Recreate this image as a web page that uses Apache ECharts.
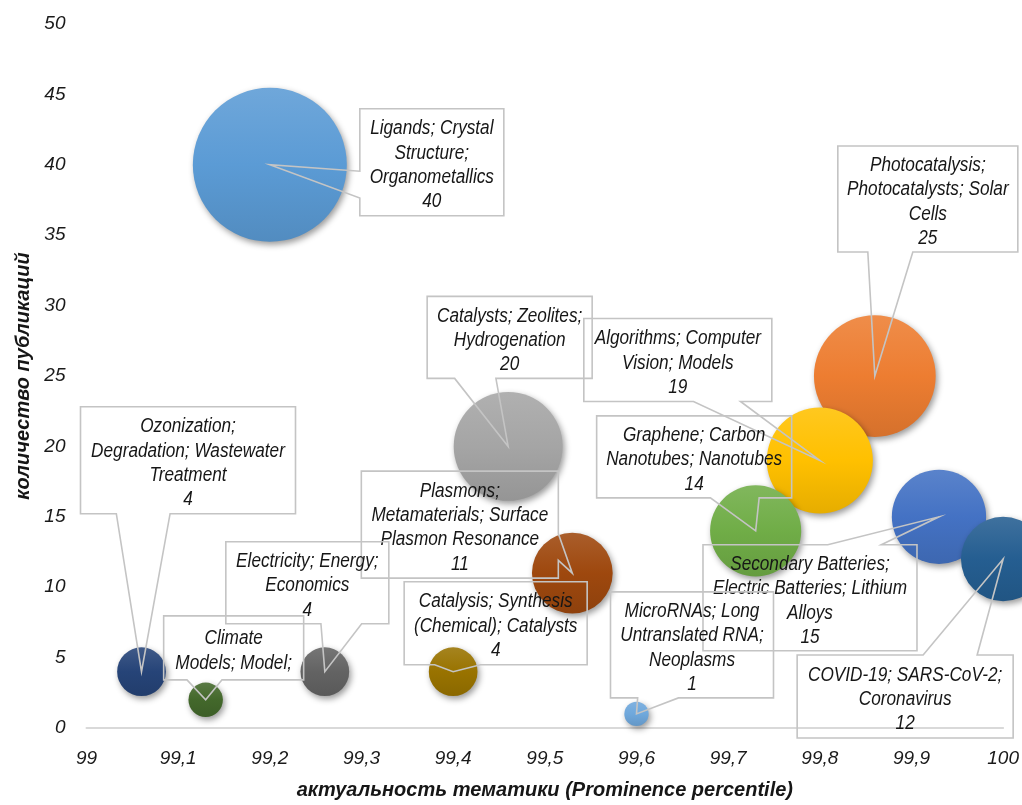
<!DOCTYPE html>
<html><head><meta charset="utf-8">
<script src="https://cdn.jsdelivr.net/npm/echarts@6/dist/echarts.min.js"></script>
<style>html,body{margin:0;padding:0;background:#fff}#c{width:1022px;height:805px}</style>
</head><body><div id="c"></div>
<script>
// ---- data ----
const topics = [
  "Ligands; Crystal\nStructure;\nOrganometallics",
  "Photocatalysis;\nPhotocatalysts; Solar\nCells",
  "Catalysts; Zeolites;\nHydrogenation",
  "Algorithms; Computer\nVision; Models",
  "Graphene; Carbon\nNanotubes; Nanotubes",
  "Secondary Batteries;\nElectric Batteries; Lithium\nAlloys",
  "COVID-19; SARS-CoV-2;\nCoronavirus",
  "Plasmons;\nMetamaterials; Surface\nPlasmon Resonance",
  "Ozonization;\nDegradation; Wastewater\nTreatment",
  "Climate\nModels; Model;",
  "Electricity; Energy;\nEconomics",
  "Catalysis; Synthesis\n(Chemical); Catalysts",
  "MicroRNAs; Long\nUntranslated RNA;\nNeoplasms"
];
const prominence   = [99.20, 99.86, 99.46, 99.80, 99.73, 99.93, 100.0, 99.53, 99.06, 99.13, 99.26, 99.40, 99.60];
const publications = [40, 25, 20, 19, 14, 15, 12, 11, 4, 2, 4, 4, 1];
const xTickLabels = ["99","99,1","99,2","99,3","99,4","99,5","99,6","99,7","99,8","99,9","100"];
const yTickLabels = ["0","5","10","15","20","25","30","35","40","45","50"];

// ---- styles / layout (not data) ----
const palette = ["#5B9BD5","#ED7D31","#A5A5A5","#FFC000","#70AD47","#4472C4","#255E91",
                 "#9E480E","#264478","#43682B","#636363","#997300","#6FA8DC"];
// callout box: centre offset from the point (px), width, height, visible lines
const callouts = [
  {dx:162,  dy:-2.5,  w:144, h:107},
  {dx:53,   dy:-177,  w:180, h:106},
  {dx:1.5,  dy:-109,  w:165, h:82},
  {dx:-142, dy:-100.5,w:188, h:83},
  {dx:-61.5,dy:-74,   w:195, h:82},
  {dx:-129, dy:81,    w:214, h:106},
  {dx:-98,  dy:137.5, w:216, h:83},
  {dx:-112.5,dy:-48.5,w:197, h:107},
  {dx:46.5, dy:-211.5,w:215, h:107},
  {dx:28,   dy:-52,   w:140, h:64, maxLines:2},
  {dx:-17.5,dy:-89,   w:163, h:82},
  {dx:42.5, dy:-48.5, w:183, h:83},
  {dx:55.5, dy:-69,   w:163, h:106}
];
const FONT = "'Liberation Sans',Arial,sans-serif";
const SIZE_K = 24.35;

function mix(hex, f){
  const n = parseInt(hex.slice(1),16);
  let r=(n>>16)&255, g=(n>>8)&255, b=n&255;
  const t = f>0?255:0, a=Math.abs(f);
  r=Math.round(r+(t-r)*a); g=Math.round(g+(t-g)*a); b=Math.round(b+(t-b)*a);
  return 'rgb('+r+','+g+','+b+')';
}

const order = publications.map((v,i)=>i).sort((a,b)=>publications[b]-publications[a]);
const bubbleData = order.map(i=>({
  value:[prominence[i], publications[i], i],
  itemStyle:{
    opacity:1,
    color: new echarts.graphic.LinearGradient(0,0,0,1,[
      {offset:0,color:mix(palette[i],0.12)},
      {offset:0.5,color:palette[i]},
      {offset:1,color:mix(palette[i],-0.1)}
    ]),
    shadowBlur:6, shadowColor:'rgba(0,0,0,0.4)', shadowOffsetX:2, shadowOffsetY:3
  }
}));
const calloutData = topics.map((t,i)=>[prominence[i], publications[i], i]);

function renderCallout(params, api){
  const i = api.value(2);
  const p = api.coord([api.value(0), api.value(1)]);
  const L = callouts[i];
  const cx = p[0]+L.dx, cy = p[1]+L.dy, w=L.w, h=L.h;
  const l=cx-w/2, r=cx+w/2, t=cy-h/2, b=cy+h/2;
  const dxPos = p[0]-cx, dyPos = p[1]-cy;
  const dq = dxPos*h/w;
  const x1 = l + w*(dxPos>0?7:2)/12, x2 = l + w*(dxPos>0?10:5)/12;
  const y1 = t + h*(dyPos>0?7:2)/12, y2 = t + h*(dyPos>0?10:5)/12;
  let pts;
  if (Math.abs(dyPos) > Math.abs(dq)) {
    if (dyPos<0) pts=[[l,t],[x1,t],p,[x2,t],[r,t],[r,b],[l,b]];
    else pts=[[l,t],[r,t],[r,b],[x2,b],p,[x1,b],[l,b]];
  } else {
    if (dxPos<0) pts=[[l,t],[r,t],[r,b],[l,b],[l,y2],p,[l,y1]];
    else pts=[[l,t],[r,t],[r,y1],p,[r,y2],[r,b],[l,b]];
  }
  let lines = (topics[i]+'\n'+publications[i]).split('\n');
  if (L.maxLines) lines = lines.slice(0,L.maxLines);
  return {
    type:'group',
    children:[
      {type:'polygon', shape:{points:pts}, style:{fill:null, stroke:'#c4c4c4', lineWidth:1.6}},
      {type:'text', x:cx, y:cy+3, scaleX:0.86, scaleY:1,
        style:{x:0, y:0, text:lines.join('\n'), fill:'#161616',
        fontStyle:'italic', fontSize:20, fontFamily:FONT, lineHeight:24.3,
        align:'center', verticalAlign:'middle'}}
    ]
  };
}

const chart = echarts.init(document.getElementById('c'), null, {renderer:'canvas'});
chart.setOption({
  animation:false,
  backgroundColor:'#fff',
  grid:{left:86.5, right:18, top:24, bottom:76},
  xAxis:{
    type:'value', min:99, max:100, interval:0.1,
    name:'актуальность тематики (Prominence percentile)', nameLocation:'middle', nameGap:52,
    nameTextStyle:{fontStyle:'italic', fontWeight:'bold', fontSize:20, fontFamily:FONT, color:'#161616'},
    axisLine:{show:true, lineStyle:{color:'#d9d9d9', width:2}},
    axisTick:{show:false}, splitLine:{show:false},
    axisLabel:{margin:21, fontStyle:'italic', fontSize:19, fontFamily:FONT, color:'#1a1a1a',
      formatter:(v)=>xTickLabels[Math.round((v-99)*10)]}
  },
  yAxis:{
    type:'value', min:0, max:50, interval:5,
    name:'количество публикаций', nameLocation:'middle', nameGap:50,
    nameTextStyle:{fontStyle:'italic', fontWeight:'bold', fontSize:20, fontFamily:FONT, color:'#161616'},
    axisLine:{show:false}, axisTick:{show:false}, splitLine:{show:false},
    axisLabel:{margin:21, fontStyle:'italic', fontSize:19, fontFamily:FONT, color:'#1a1a1a',
      formatter:(v)=>yTickLabels[Math.round(v/5)]}
  },
  series:[
    {type:'scatter', data:bubbleData, clip:true, z:2,
      symbolSize:(v)=>SIZE_K*Math.sqrt(v[1])},
    {type:'custom', data:calloutData, renderItem:renderCallout, clip:false, z:5, silent:true}
  ]
});
</script>
</body></html>
